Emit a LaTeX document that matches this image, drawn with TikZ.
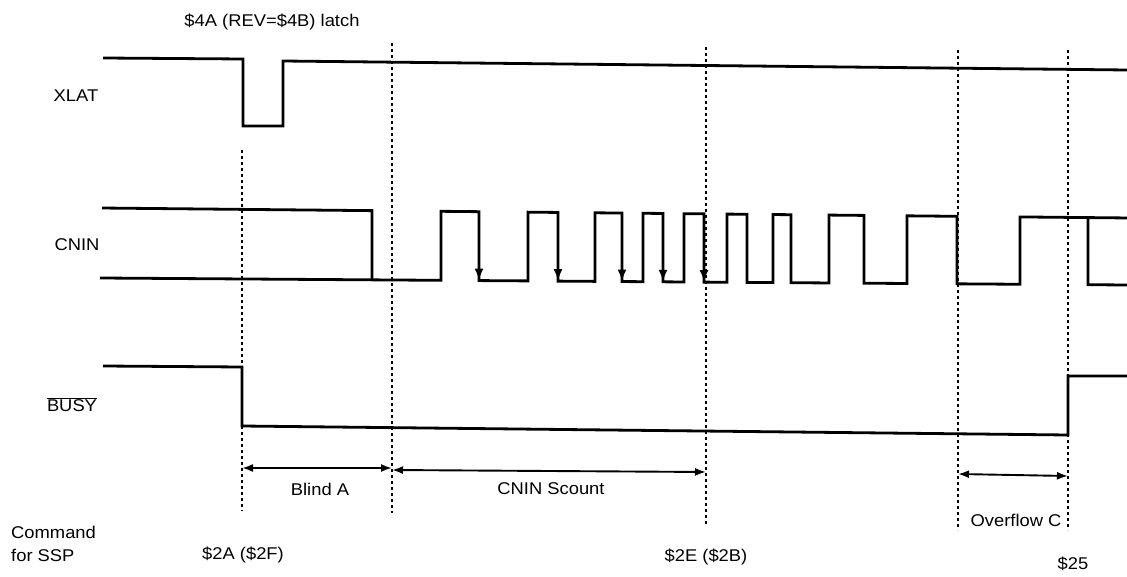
\documentclass[tikz,border=0pt]{standalone}
\usepackage{fontspec}
\setmainfont{Liberation Sans}
\usetikzlibrary{arrows.meta}
\newcommand\sx[1]{\scalebox{1.08}[1]{#1}}
\pgfmathdeclarefunction{hy}{1}{\pgfmathparse{208+(#1-100)*0.0097}}
\pgfmathdeclarefunction{ly}{1}{\pgfmathparse{278+(#1-100)*0.0068}}
\begin{document}
\begin{tikzpicture}[x=1pt,y=-1pt,
  sig/.style={line width=2.8pt, line join=miter},
  guide/.style={line width=1.2pt, dash pattern=on 3pt off 3pt},
  dim/.style={line width=1.9pt, {Latex[length=11pt,width=8pt]}-{Latex[length=11pt,width=8pt]}},
  edgearrow/.style={line width=2.6pt, -{Latex[length=12pt,width=9pt]}},
  lbl/.style={font=\fontsize{17}{20}\selectfont, inner sep=0pt}]
\useasboundingbox (0,0) rectangle (1127,577);

% labels
\node[lbl] (latch) at (272,22) {\sx{\$4A (REV=\$4B) latch}};
\node[lbl] (xlat) at (76,96) {\sx{XLAT}};
\node[lbl] (cnin) at (77,245) {\sx{CNIN}};
\node[lbl] (busy) at (72,405) {\sx{$\overline{\mbox{BUSY}}$}};
\node[lbl,anchor=west] (cmd1) at (11,532) {\sx{Command}};
\node[lbl,anchor=west] (cmd2) at (11,555) {\sx{for SSP}};
\node[lbl] (c2a) at (243,555) {\sx{\$2A (\$2F)}};
\node[lbl] (c2e) at (706,557) {\sx{\$2E (\$2B)}};
\node[lbl] (c25) at (1073,564) {\sx{\$25}};
\node[lbl] (blind) at (320,489) {\sx{Blind A}};
\node[lbl] (scount) at (551,489) {\sx{CNIN Scount}};
\node[lbl] (ovf) at (1016,520) {\sx{Overflow C}};

% guide lines
\coordinate (t1) at (242,150); \coordinate (b1) at (242,511);
\coordinate (t2) at (392,43);  \coordinate (b2) at (392,513);
\coordinate (t3) at (706,47);  \coordinate (b3) at (706,524);
\coordinate (t4) at (958,50);  \coordinate (b4) at (958,530);
\coordinate (t5) at (1068,50); \coordinate (b5) at (1068,530);
\foreach \i in {1,...,5} \draw[guide] (t\i) -- (b\i);

% XLAT
\draw[sig] (103,58) -- (243,59) -- (243,126) -- (283,126) -- (283,61) -- (1127,70);

% CNIN
\draw[sig] (102,{hy(102)}) -- (372,{hy(372)}) -- (372,{ly(372)});
\draw[sig] (100,{ly(100)}) -- (372,{ly(372)})
  -- (441,{ly(441)}) -- (441,{hy(441)}) -- (479,{hy(479)}) -- (479,{ly(479)})
  -- (528,{ly(528)}) -- (528,{hy(528)}) -- (558,{hy(558)}) -- (558,{ly(558)})
  -- (595,{ly(595)}) -- (595,{hy(595)}) -- (622,{hy(622)}) -- (622,{ly(622)})
  -- (643,{ly(643)}) -- (643,{hy(643)}) -- (663,{hy(663)}) -- (663,{ly(663)})
  -- (684,{ly(684)}) -- (684,{hy(684)}) -- (704,{hy(704)}) -- (704,{ly(704)})
  -- (727,{ly(727)}) -- (727,{hy(727)}) -- (747,{hy(747)}) -- (747,{ly(747)})
  -- (773,{ly(773)}) -- (773,{hy(773)}) -- (791,{hy(791)}) -- (791,{ly(791)})
  -- (829,{ly(829)}) -- (829,{hy(829)}) -- (864,{hy(864)}) -- (864,{ly(864)})
  -- (907,{ly(907)}) -- (907,{hy(907)}) -- (957,{hy(957)}) -- (957,{ly(957)})
  -- (1020,{ly(1020)}) -- (1020,{hy(1020)}) -- (1088,{hy(1088)}) -- (1088,{ly(1088)})
  -- (1127,{ly(1127)});
\draw[sig] (1088,{hy(1088)}) -- (1127,{hy(1127)});
\foreach \x in {479,558,622,663,704}
  \draw[edgearrow] (\x,{hy(\x)+20}) -- (\x,{ly(\x)});

% BUSY
\draw[sig] (103,366) -- (242,367) -- (242,426) -- (1068,435) -- (1068,376) -- (1127,376);

% dimension arrows
\coordinate (a1) at (242,468); \coordinate (a2) at (392,468);
\coordinate (a3) at (392,470); \coordinate (a4) at (706,472);
\coordinate (a5) at (958,474); \coordinate (a6) at (1068,476);
\draw[dim] (a1) -- (a2);
\draw[dim] (a3) -- (a4);
\draw[dim] (a5) -- (a6);
\end{tikzpicture}
\end{document}
